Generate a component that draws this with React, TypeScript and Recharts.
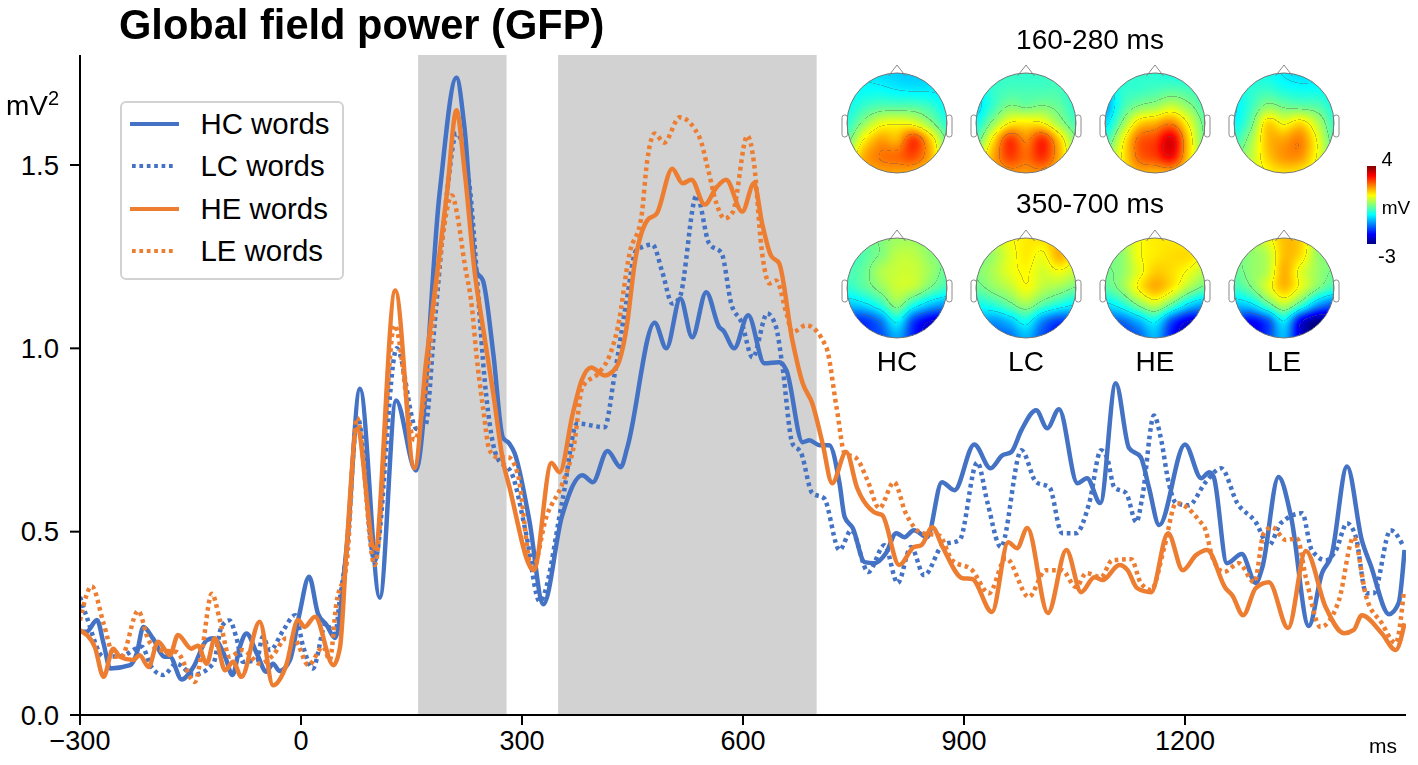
import React, { useEffect, useRef } from 'react';
import { LineChart, Line, XAxis, YAxis, ReferenceArea, Legend } from 'recharts';

const FONT = '"Liberation Sans", Arial, sans-serif';
const BLUE = '#4472c4';
const ORANGE = '#ed7d31';
const DOTS = '3.7 3.7';

// [ms, mV^2], turning points mostly
const hcPoints = [
  [-300, .227], [-291, .227], [-277, .259], [-268, .195], [-259, .127], [-232, .136], [-223, .168], [-214, .24], [-201, .209],
  [-185, .159], [-178, .159], [-162, .097], [-146, .131], [-128, .204], [-119, .209], [-103, .159], [-93, .109], [-83, .186],
  [-74, .222], [-60, .168], [-47, .118], [-38, .14], [-29, .12], [-15, .15], [-2, .277], [11, .377], [23, .277], [35, .245],
  [46, .21], [62, .458], [80, .89], [107, .32], [129, .858], [156, .667], [188, 1.42], [211, 1.738], [222, 1.6], [238, 1.21],
  [247, 1.185], [261, .986], [274, .757], [283, .74], [290, .714], [310, .53], [329, .302], [354, .54], [382, .654], [396, .635],
  [416, .72], [434, .676], [443, .73], [480, 1.07], [496, 1.0], [515, 1.136], [531, 1.03], [550, 1.153], [568, 1.057], [573, 1.049],
  [588, 1.0], [607, 1.09], [629, .959], [649, .962], [659, .94], [681, .744], [690, .749], [704, .736], [717, .736], [731, .632],
  [738, .54], [749, .51], [765, .417], [778, .414], [794, .441], [808, .496], [819, .485], [832, .504], [850, .485], [870, .635],
  [887, .613], [914, .738], [936, .673], [952, .708], [964, .717], [978, .777], [998, .831], [1013, .782], [1029, .834], [1054, .632],
  [1067, .646], [1085, .578], [1106, .905], [1124, .728], [1140, .703], [1151, .621], [1165, .518], [1200, .738], [1222, .646],
  [1233, .662], [1239, .649], [1257, .414], [1277, .439], [1296, .36], [1305, .403], [1327, .649], [1344, .54], [1368, .243],
  [1386, .387], [1399, .436], [1420, .678], [1440, .477], [1452, .409], [1477, .275], [1490, .305], [1498, .45],
];

const lcPoints = [
  [-300, .322], [-291, .268], [-268, .159], [-245, .16], [-216, .186], [-203, .131], [-187, .109], [-169, .14], [-146, .11], [-119, .14],
  [-108, .24], [-97, .258], [-88, .213], [-79, .145], [-60, .15], [-52, .213], [-42, .177], [-24, .231], [-8, .272], [3, .186], [16, .127],
  [34, .25], [46, .213], [52, .304], [62, .45], [77, .81], [100, .42], [130, 1.0], [157, .78], [169, .79], [181, 1.057], [198, 1.42],
  [211, 1.586], [229, 1.44], [236, 1.275], [243, 1.076], [247, .967], [256, .796], [266, .703], [286, .659], [305, .5], [324, .31],
  [355, .586], [375, .795], [412, .785], [426, .932], [442, 1.13], [455, 1.267], [477, 1.283], [491, 1.204], [504, 1.122], [514, 1.139],
  [537, 1.417], [554, 1.286], [571, 1.259], [584, 1.122], [598, 1.071], [613, .975], [633, 1.095], [645, 1.057], [653, .959], [667, .741],
  [679, .714], [694, .605], [710, .591], [731, .45], [747, .504], [770, .39], [792, .463], [810, .36], [828, .458], [846, .381], [871, .463],
  [894, .477], [918, .689], [932, .578], [950, .458], [978, .722], [998, .635], [1016, .621], [1033, .496], [1052, .496], [1070, .578],
  [1086, .722], [1094, .703], [1104, .621], [1120, .605], [1134, .526], [1142, .594], [1158, .817], [1167, .757], [1178, .632], [1188, .578],
  [1205, .572], [1228, .635], [1249, .673], [1271, .578], [1296, .526], [1314, .463], [1330, .523], [1359, .55], [1372, .45], [1391, .422],
  [1405, .45], [1420, .523], [1432, .485], [1446, .332], [1456, .332], [1479, .504], [1497, .458],
];

const hePoints = [
  [-300, .231], [-280, .186], [-268, .104], [-255, .181], [-246, .159], [-228, .15], [-219, .163], [-207, .131], [-194, .2], [-178, .163],
  [-167, .218], [-149, .181], [-140, .189], [-128, .14], [-117, .209], [-103, .122], [-92, .145], [-81, .104], [-56, .254], [-38, .081],
  [-20, .136], [-4, .259], [5, .24], [19, .268], [44, .136], [53, .186], [62, .458], [76, .78], [100, .455], [128, 1.158], [154, .673],
  [170, .967], [184, 1.193], [198, 1.42], [211, 1.649], [222, 1.485], [236, 1.204], [247, 1.057], [261, .877], [274, .695], [283, .621],
  [316, .395], [340, .687], [351, .662], [369, .823], [381, .913], [394, .948], [412, .926], [428, .948], [442, 1.057], [453, 1.232],
  [470, 1.349], [483, 1.368], [504, 1.49], [518, 1.45], [530, 1.46], [548, 1.392], [564, 1.439], [577, 1.46], [599, 1.373], [615, 1.45],
  [626, 1.34], [638, 1.253], [649, 1.232], [667, 1.022], [681, .905], [694, .85], [708, .741], [721, .632], [740, .717], [755, .619],
  [778, .553], [789, .545], [812, .409], [832, .458], [842, .463], [857, .512], [871, .458], [898, .373], [911, .371], [938, .281],
  [960, .471], [972, .455], [986, .51], [1014, .278], [1039, .45], [1059, .335], [1077, .376], [1088, .368], [1111, .409], [1122, .395],
  [1135, .346], [1154, .335], [1177, .496], [1197, .395], [1215, .436], [1230, .45], [1255, .346], [1264, .327], [1279, .272], [1296, .346],
  [1314, .362], [1340, .237], [1364, .447], [1391, .294], [1416, .223], [1429, .232], [1440, .272], [1467, .223], [1486, .177], [1498, .25],
];

const lePoints = [
  [-300, .258], [-284, .351], [-268, .25], [-253, .159], [-244, .159], [-221, .284], [-207, .204], [-192, .177], [-169, .172], [-144, .09],
  [-135, .168], [-121, .331], [-110, .258], [-97, .159], [-79, .177], [-56, .14], [-38, .163], [-20, .209], [-8, .204], [10, .136], [30, .186],
  [39, .15], [48, .304], [62, .413], [76, .81], [100, .409], [127, 1.063], [154, .75], [170, .9], [184, 1.166], [205, 1.417], [211, 1.376],
  [222, 1.232], [232, 1.112], [238, .986], [247, .839], [256, .722], [266, .703], [281, .703], [294, .659], [314, .395], [333, .54], [355, .632],
  [371, .741], [382, .894], [405, .935], [419, .981], [430, 1.057], [446, 1.259], [462, 1.357], [470, 1.512], [480, 1.586], [493, 1.561],
  [514, 1.63], [541, 1.575], [552, 1.493], [564, 1.395], [575, 1.354], [586, 1.371], [606, 1.58], [615, 1.504], [625, 1.275], [636, 1.177],
  [645, 1.185], [659, 1.095], [667, 1.044], [686, 1.063], [713, 1.003], [727, .839], [738, .714], [754, .7], [769, .64], [785, .564], [805, .635],
  [821, .55], [843, .496], [866, .49], [884, .422], [911, .395], [934, .332], [957, .428], [988, .322], [1011, .395], [1033, .395], [1052, .349],
  [1066, .387], [1086, .376], [1101, .422], [1127, .425], [1140, .36], [1154, .341], [1172, .458], [1188, .578], [1219, .531], [1228, .504],
  [1237, .431], [1253, .39], [1273, .414], [1294, .362], [1307, .496], [1318, .512], [1337, .477], [1352, .482], [1364, .376], [1384, .24],
  [1409, .313], [1429, .485], [1446, .322], [1467, .251], [1486, .196], [1497, .335],
];

const xTicks = [-300, 0, 300, 600, 900, 1200];
const yTicks = [0, 0.5, 1, 1.5];
const windows = [[159, 279], [349, 700]];
const headLabels = ['HC', 'LC', 'HE', 'LE'];

// scalp voltage (mV) on a 7x7 grid, front row first, left to right
const earlyMaps = [
  [[-.5, -.5, -.6, -.7, -.75, -.7, -.7], [-.4, -.35, -.35, -.45, -.5, -.5, -.55], [-.3, 0, .2, .2, .2, 0, -.4], [-.1, .6, 1.2, 1.3, 1.2, .6, -.1], [.3, 1.4, 2, 1.9, 2.7, 1.7, .4], [.9, 1.9, 2.3, 2.4, 2.6, 1.9, .7], [1.3, 1.8, 2, 2, 1.9, 1.5, 1]],
  [[0, -.05, 0, -.05, 0, 0, -.05], [-.4, -.05, .1, .1, .1, .1, -.2], [-.6, 0, .5, .4, .5, .3, -.1], [-.3, .6, 1.4, 1.5, 1.4, .7, .1], [.2, 1.5, 2.7, 2.2, 2.8, 1.7, .5], [.9, 1.9, 2.7, 2.4, 2.8, 1.9, .8], [1.3, 1.8, 2.1, 2.1, 2.1, 1.6, 1.1]],
  [[-.1, -.1, -.05, -.1, -.2, -.3, -.3], [-.7, -.1, 0, .1, .2, .1, -.05], [-1, 0, .5, .7, 1, .6, .1], [-.6, .5, 1.6, 1.9, 2.2, 1.3, .3], [-.05, 1.2, 2.4, 2.7, 3.3, 1.7, .4], [.6, 1.4, 2.4, 2.7, 3.1, 1.7, .6], [1, 1.4, 1.9, 1.9, 1.9, 1.4, .8]],
  [[-.2, -.2, -.25, -.5, -.6, -.55, -.5], [-.3, -.1, 0, -.2, -.3, -.3, -.35], [-.5, 0, .6, .4, .3, .2, -.2], [-.4, .3, 1.6, 1.3, 1.6, .9, 0], [-.05, .7, 1.8, 2, 2.2, 1.3, .2], [.4, .9, 1.7, 2.1, 2.1, 1.3, .5], [.8, 1, 1.4, 1.6, 1.5, 1.1, .6]],
];
const lateMaps = [
  [[.2, .3, .5, .7, .7, .5, .4], [-.1, .2, .5, .9, .9, .6, .4], [.1, .3, .8, 1, 1, .7, .3], [-.1, .2, .6, 1, .9, .4, 0], [-.8, -.6, -.1, .6, -.2, -.8, -1.1], [-1.7, -1.8, -1.3, -.4, -1.7, -2.3, -2.4], [-1.5, -1.6, -1.6, -1, -1.9, -2.5, -2.5]],
  [[.8, .9, 1.3, 1.5, 1.6, 1.7, 1.2], [.4, .7, 1.2, 1.5, 1.3, 1.9, 1.4], [.5, .8, 1.2, 1.4, 1.1, 1.3, 1], [.3, .6, .9, 1.3, .9, .7, .4], [-.3, -.1, .3, .7, .2, -.2, -.5], [-.8, -1.1, -.8, -.3, -1.2, -1.7, -1.5], [-1.1, -1.4, -1.4, -.9, -1.6, -2.1, -2]],
  [[.7, .8, 1.3, 1.5, 1.5, 1.4, 1.2], [.5, .6, 1.3, 1.5, 1.6, 1.6, 1.3], [.4, .6, 1.2, 1.7, 1.6, 1.3, .9], [.2, .6, 1.4, 1.9, 1.5, .8, .3], [-.6, -.2, .5, 1, .3, -.6, -1], [-1.4, -1.4, -.9, -.4, -1.6, -2.3, -2.2], [-1.5, -1.8, -1.5, -.9, -2, -2.6, -2.5]],
  [[.6, .7, 1.2, 1.8, 1.7, .8, .6], [.4, .6, .9, 1.8, 1.6, .7, .5], [.3, .6, .9, 1.9, 1.2, .7, .4], [0, .4, 1.1, 1.8, 1.2, .5, 0], [-.8, -.6, .2, .9, .1, -1, -1.5], [-1.6, -2.1, -1.6, -.5, -2.2, -2.9, -2.7], [-1.5, -2.2, -1.7, -.9, -2.4, -3, -2.8]],
];

const toRows = (pts: number[][]) => pts.map(([t, v]) => ({ t, v }));

const series = [
  { name: 'HC words', rows: toRows(hcPoints), color: BLUE, dash: undefined },
  { name: 'LC words', rows: toRows(lcPoints), color: BLUE, dash: DOTS },
  { name: 'HE words', rows: toRows(hePoints), color: ORANGE, dash: undefined },
  { name: 'LE words', rows: toRows(lePoints), color: ORANGE, dash: DOTS },
];

function jet(mv: number) {
  const t = Math.min(1, Math.max(0, (mv + 3) / 7));
  const ch = (c: number) => Math.round(255 * Math.min(1, Math.max(0, 1.5 - Math.abs(4 * t - c))));
  return [ch(3), ch(2), ch(1)];
}

function catmull(a: number, b: number, c: number, d: number, f: number) {
  return b + 0.5 * f * (c - a + f * (2 * a - 5 * b + 4 * c - d + f * (3 * (b - c) + d - a)));
}

function sample(grid: number[][], x: number, y: number) {
  const n = grid.length - 1;
  const gx = Math.min(n - 1e-6, Math.max(0, x * n));
  const gy = Math.min(n - 1e-6, Math.max(0, y * n));
  const ix = Math.floor(gx);
  const iy = Math.floor(gy);
  const at = (r: number, c: number) => grid[Math.min(n, Math.max(0, r))][Math.min(n, Math.max(0, c))];
  const row = (r: number) => catmull(at(r, ix - 1), at(r, ix), at(r, ix + 1), at(r, ix + 2), gx - ix);
  return catmull(row(iy - 1), row(iy), row(iy + 1), row(iy + 2), gy - iy);
}

function Scalp({ grid, left, top }: { grid: number[][]; left: number; top: number }) {
  const ref = useRef<HTMLCanvasElement>(null);
  useEffect(() => {
    const canvas = ref.current;
    if (!canvas) return;
    const size = canvas.width;
    const ctx = canvas.getContext('2d')!;
    const img = ctx.createImageData(size, size);
    const r = size / 2;
    const vals: number[] = [];
    for (let j = 0; j < size; j++) {
      for (let i = 0; i < size; i++) vals.push(sample(grid, (i + 0.5) / size, (j + 0.5) / size));
    }
    const level = (v: number) => Math.floor(v * 1.1 + 0.5);
    for (let j = 0; j < size; j++) {
      for (let i = 0; i < size; i++) {
        const d = Math.hypot(i + 0.5 - r, j + 0.5 - r);
        const k = (j * size + i) * 4;
        const v = vals[j * size + i];
        let [cr, cg, cb] = jet(v);
        const lvl = level(v);
        // contour: the level changes within a couple of samples
        const crossed = (i > 1 && level(vals[j * size + i - 2]) !== lvl) || (j > 1 && level(vals[(j - 2) * size + i]) !== lvl);
        if (crossed) {
          cr = cr * 0.62 + 35; cg = cg * 0.62 + 35; cb = cb * 0.62 + 35;
        }
        img.data[k] = cr;
        img.data[k + 1] = cg;
        img.data[k + 2] = cb;
        img.data[k + 3] = d <= r ? 255 : 0;
      }
    }
    ctx.putImageData(img, 0, 0);
  }, [grid]);
  return <canvas ref={ref} width={300} height={300} style={{ position: 'absolute', left, top, width: 100, height: 100 }} />;
}

function HeadOutline({ left, top }: { left: number; top: number }) {
  const cx = left + 50;
  return (
    <g fill="none" stroke="#8a8a8a" strokeWidth={1}>
      <polyline points={`${cx - 8.5},${top + 3} ${cx},${top - 8} ${cx + 8.5},${top + 3}`} />
      <rect x={left - 5} y={top + 42} width={5.5} height={22} rx={2.5} fill="#fff" />
      <rect x={left + 99.5} y={top + 42} width={5.5} height={22} rx={2.5} fill="#fff" />
      <circle cx={cx} cy={top + 50} r={50} stroke="#777" />
    </g>
  );
}

function LegendBox({ payload }: any) {
  return (
    <div style={{ boxSizing: 'border-box', width: 224, height: 179, border: '2.5px solid #d2d2d2', borderRadius: 6, background: '#fff' }}>
      {(payload || []).map((item: any) => (
        <div key={item.value} style={{ display: 'flex', alignItems: 'center', height: 42.3, fontFamily: FONT, fontSize: 29.4, color: '#000' }}>
          <svg width={78.5} height={10} style={{ flex: 'none' }}>
            <line
              x1={item.payload.strokeDasharray ? 10 : 8}
              x2={item.payload.strokeDasharray ? 54 : 57}
              y1={5}
              y2={5}
              stroke={item.color}
              strokeWidth={4}
              strokeDasharray={item.payload.strokeDasharray}
            />
          </svg>
          <span>{item.value}</span>
        </div>
      ))}
    </div>
  );
}

const headLefts = [847, 976, 1105, 1234];
const TOP_EARLY = 73;
const TOP_LATE = 238;

export default function App() {
  return (
    <div style={{ position: 'absolute', left: 0, top: 0, width: 1418, height: 765, background: '#fff', overflow: 'hidden', fontFamily: FONT }}>
      <LineChart width={1418} height={765} margin={{ top: 55, right: 12, bottom: 20, left: 20 }}>
        <XAxis
          dataKey="t"
          type="number"
          domain={[-300, 1500]}
          ticks={xTicks}
          allowDataOverflow
          height={30}
          stroke="#000"
          strokeWidth={2}
          tickSize={10}
          tickMargin={6}
          tick={{ fill: '#000', fontSize: 27, fontFamily: FONT }}
          tickFormatter={(v: number) => String(v).replace('-', '\u2212')}
        />
        <YAxis
          type="number"
          domain={[0, 1.8]}
          ticks={yTicks}
          width={60}
          stroke="#000"
          strokeWidth={2}
          tickSize={10}
          tickMargin={11}
          tick={{ fill: '#000', fontSize: 27.5, fontFamily: FONT }}
          tickFormatter={(v: number) => v.toFixed(1)}
        />
        {windows.map(([a, b]) => (
          <ReferenceArea key={a} x1={a} x2={b} fill="#d2d2d2" fillOpacity={1} stroke="none" />
        ))}
        <Legend
          layout="vertical"
          align="center"
          verticalAlign="middle"
          itemSorter={null}
          wrapperStyle={{ left: 120, top: 101, width: 224 }}
          content={<LegendBox />}
        />
        {series.map((s) => (
          <Line
            key={s.name}
            data={s.rows}
            dataKey="v"
            name={s.name}
            type="monotone"
            stroke={s.color}
            strokeWidth={4.5}
            strokeDasharray={s.dash}
            dot={false}
            activeDot={false}
            isAnimationActive={false}
          />
        ))}
      </LineChart>

      {earlyMaps.map((g, i) => <Scalp key={`e${i}`} grid={g} left={headLefts[i]} top={TOP_EARLY} />)}
      {lateMaps.map((g, i) => <Scalp key={`l${i}`} grid={g} left={headLefts[i]} top={TOP_LATE} />)}

      <svg width={1418} height={765} style={{ position: 'absolute', left: 0, top: 0, pointerEvents: 'none' }} fontFamily={FONT}>
        <defs>
          <linearGradient id="jetBar" x1="0" y1="1" x2="0" y2="0">
            {[-3, -2.125, -.375, .5, 1.375, 3.125, 4].map((v) => {
              const [r, g, b] = jet(v);
              return <stop key={v} offset={(v + 3) / 7} stopColor={`rgb(${r},${g},${b})`} />;
            })}
          </linearGradient>
        </defs>
        <text x={119} y={39} fontSize={41.6} fontWeight="bold" fill="#000">Global field power (GFP)</text>
        <text x={6} y={115} fontSize={28} fill="#000">mV<tspan dy={-10} fontSize={20}>2</tspan></text>
        <text x={1369} y={753} fontSize={21} fill="#000">ms</text>
        <text x={1090} y={49} fontSize={28} textAnchor="middle" fill="#000">160-280 ms</text>
        <text x={1090} y={213} fontSize={28} textAnchor="middle" fill="#000">350-700 ms</text>
        {headLefts.map((l, i) => (
          <g key={l}>
            <HeadOutline left={l} top={TOP_EARLY} />
            <HeadOutline left={l} top={TOP_LATE} />
            <text x={l + 50} y={371} fontSize={28} textAnchor="middle" fill="#000">{headLabels[i]}</text>
          </g>
        ))}
        <rect x={1367} y={166} width={9} height={78} fill="url(#jetBar)" />
        <text x={1387} y={166} fontSize={20} textAnchor="middle" fill="#000">4</text>
        <text x={1396} y={214} fontSize={19} textAnchor="middle" fill="#000">mV</text>
        <text x={1387} y={263} fontSize={20} textAnchor="middle" fill="#000">-3</text>
      </svg>
    </div>
  );
}
